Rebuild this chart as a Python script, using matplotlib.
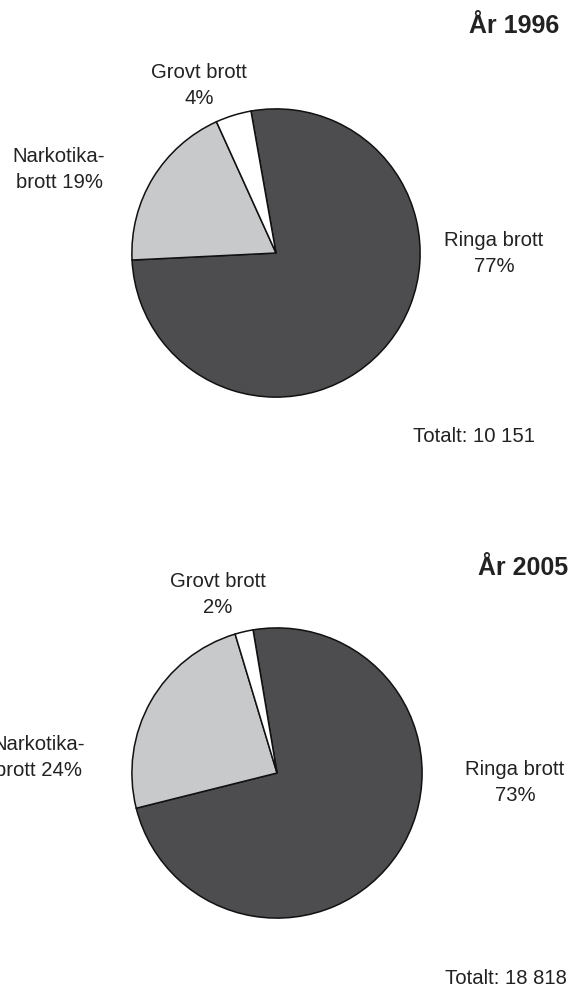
import matplotlib.pyplot as plt

plt.rcParams['font.family'] = ['Liberation Sans', 'DejaVu Sans']

# data
categories = ['Ringa brott', 'Narkotika-\nbrott', 'Grovt brott']
values_1996 = [77, 19, 4]
values_2005 = [73, 24, 2]
total_1996 = '10 151'
total_2005 = '18 818'

colors = ['#4d4d4f', '#c8c9cb', '#ffffff']

W, H = 571, 989
fig = plt.figure(figsize=(W / 100, H / 100), dpi=100)


def px(x, y):
    return x / W, 1 - y / H


def draw_pie(cx, cy, r, values, start):
    ax = fig.add_axes([(cx - r) / W, 1 - (cy + r) / H, 2 * r / W, 2 * r / H])
    ax.pie(values, colors=colors, startangle=start, counterclock=False,
           wedgeprops=dict(edgecolor='#111111', linewidth=1.1))
    ax.set_xlim(-1.02, 1.02)
    ax.set_ylim(-1.02, 1.02)
    ax.axis('off')


draw_pie(276, 253, 147, values_1996, 100)
draw_pie(277, 773, 148, values_2005, 99.5)

fs = 14.6
tc = '#222222'
ls = 1.47

# 1996 (y = baseline of the last line)
fig.text(*px(559, 33), 'År 1996', ha='right', va='baseline', fontsize=18,
         fontweight='bold', color=tc)
fig.text(*px(199, 104), f'Grovt brott\n{values_1996[2]}%', ha='center', va='baseline',
         fontsize=fs, color=tc, linespacing=ls)
fig.text(*px(59, 188), f'Narkotika-\nbrott {values_1996[1]}%', ha='center', va='baseline',
         fontsize=fs, color=tc, linespacing=ls)
fig.text(*px(494, 272), f'Ringa brott\n{values_1996[0]}%', ha='center', va='baseline',
         fontsize=fs, color=tc, linespacing=ls)
fig.text(*px(474, 442), f'Totalt: {total_1996}', ha='center', va='baseline',
         fontsize=fs, color=tc)

# 2005
fig.text(*px(568, 575), 'År 2005', ha='right', va='baseline', fontsize=18,
         fontweight='bold', color=tc)
fig.text(*px(218, 613), f'Grovt brott\n{values_2005[2]}%', ha='center', va='baseline',
         fontsize=fs, color=tc, linespacing=ls)
fig.text(*px(39, 776), f'Narkotika-\nbrott {values_2005[1]}%', ha='center', va='baseline',
         fontsize=fs, color=tc, linespacing=ls)
fig.text(*px(515, 801), f'Ringa brott\n{values_2005[0]}%', ha='center', va='baseline',
         fontsize=fs, color=tc, linespacing=ls)
fig.text(*px(506, 984), f'Totalt: {total_2005}', ha='center', va='baseline',
         fontsize=fs, color=tc)

fig.savefig('out.png', dpi=100)
